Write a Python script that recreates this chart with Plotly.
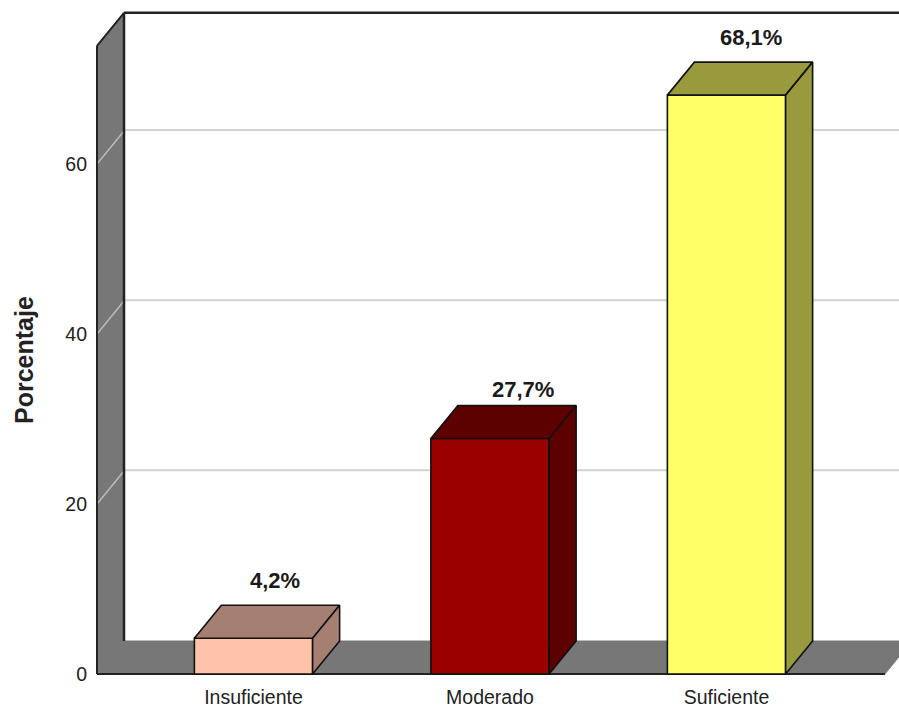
import plotly.graph_objects as go

categories = ["Insuficiente", "Moderado", "Suficiente"]
values = [4.2, 27.7, 68.1]
value_labels = ["4,2%", "27,7%", "68,1%"]
y_ticks = [0, 20, 40, 60]
front_colors = ["#FFC3AA", "#990000", "#FFFF66"]
dark_colors = ["#A58070", "#5C0000", "#99993D"]

BAR_W = 0.5
DX = 27 / 236.5
DY = 33 / 8.5
WALL_TOP = 73.9
X0 = -0.6617
X1 = 2.67
label_shift = [(22, 10), (33, 2), (24, 10)]
FONT = "Liberation Sans"
EDGE = "#111111"

fig = go.Figure()
fig.add_trace(go.Bar(x=list(range(3)), y=values, width=BAR_W, marker=dict(color=front_colors, line=dict(color=EDGE, width=1.6)), hoverinfo="skip"))

for i, v in enumerate(values):
    l, r = i - BAR_W / 2, i + BAR_W / 2
    fig.add_trace(go.Scatter(x=[l, r, r + DX, l + DX, l], y=[v, v, v + DY, v + DY, v], mode="lines", fill="toself",
                             fillcolor=dark_colors[i], line=dict(color=EDGE, width=1.6), hoverinfo="skip"))
    fig.add_trace(go.Scatter(x=[r, r + DX, r + DX, r, r], y=[0, DY, v + DY, v, 0], mode="lines", fill="toself",
                             fillcolor=dark_colors[i], line=dict(color=EDGE, width=1.6), hoverinfo="skip"))
    fig.add_annotation(x=i, y=v + DY, text="<b>%s</b>" % value_labels[i], showarrow=False, xanchor="center", yanchor="bottom",
                       xshift=label_shift[i][0], yshift=label_shift[i][1], font=dict(family=FONT, size=22, color="#1a1a1a"))

fig.add_annotation(xref="paper", yref="paper", x=-0.0816, y=0.4706, text="<b>Porcentaje</b>", textangle=-90, showarrow=False,
                   xanchor="center", yanchor="middle", font=dict(family=FONT, size=25, color="#222222"))

shapes = []
G = "#777777"
shapes.append(dict(type="path", layer="below", xref="x", yref="y", fillcolor=G, line=dict(color=G, width=1),
                   path=f"M {X0} 0 L {X0} {WALL_TOP} L {X0+DX} {WALL_TOP+DY} L {X0+DX} {DY} Z"))
shapes.append(dict(type="path", layer="below", xref="x", yref="y", fillcolor=G, line=dict(color=G, width=1),
                   path=f"M {X0} 0 L {X0+DX} {DY} L {X1+DX} {DY} L {X1} 0 Z"))
for t in y_ticks[1:]:
    shapes.append(dict(type="line", layer="below", xref="x", yref="y", x0=X0, y0=t, x1=X0 + DX, y1=t + DY, line=dict(color="#BBBBBB", width=1.5)))
    shapes.append(dict(type="line", layer="below", xref="x", yref="y", x0=X0 + DX, y0=t + DY + 0.1, x1=X1 + 2 * DX, y1=t + DY + 0.1, line=dict(color="#D2D2D2", width=2)))


def edge(xa, ya, xb, yb, w=2):
    shapes.append(dict(type="line", layer="below", xref="x", yref="y", x0=xa, y0=ya, x1=xb, y1=yb, line=dict(color="#222222", width=w)))


edge(X0, 0, X0, WALL_TOP)
edge(X0, WALL_TOP, X0 + DX, WALL_TOP + DY)
edge(X0 + DX, DY, X0 + DX, WALL_TOP + DY, 2.5)
edge(X0 + DX, WALL_TOP + DY, X1 + 2 * DX, WALL_TOP + DY, 2.5)
edge(X0, 0, X1, 0)

fig.update_layout(
    width=899, height=706, autosize=False, showlegend=False, plot_bgcolor="white", paper_bgcolor="white",
    margin=dict(l=90, r=0, t=0, b=26), shapes=shapes,
    font=dict(family=FONT, size=19.5, color="#222222"),
    xaxis=dict(range=[-0.6913, 2.7294], tickmode="array", tickvals=list(range(3)), ticktext=categories, automargin=False,
               showgrid=False, zeroline=False, showline=False, ticks="", ticklabelstandoff=3),
    yaxis=dict(range=[-0.706, 79.29], tickmode="array", tickvals=y_ticks, showgrid=False, zeroline=False, showline=False, ticks="",
               automargin=False, ticklabelstandoff=2),
)
fig.write_html("out.html", config=dict(displayModeBar=False),
               post_script="document.body.style.margin='0';document.documentElement.style.overflow='hidden';")
